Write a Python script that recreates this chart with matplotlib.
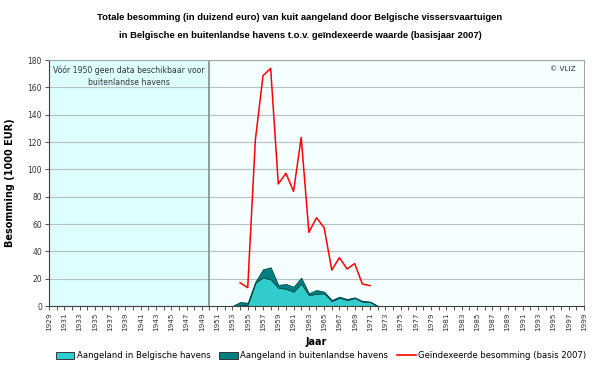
import matplotlib
matplotlib.use("Agg")
import matplotlib.pyplot as plt
import numpy as np
from matplotlib.patches import Patch
from matplotlib.lines import Line2D

plt.rcParams['font.family'] = ['DejaVu Sans']

years = list(range(1953, 1973))
belgisch = [0.0, 0.3, 1.0, 17.0, 21.0, 19.5, 13.4, 12.7, 10.5, 16.6, 8.0, 9.0, 9.3, 3.7, 6.1, 4.4, 5.9, 3.2, 3.0, 0.0]
totaal = [0.0, 2.9, 2.4, 17.8, 26.8, 28.3, 15.4, 16.1, 14.1, 20.7, 9.3, 11.7, 10.5, 4.4, 6.8, 5.1, 6.3, 3.7, 3.2, 0.0]
buitenlands = [t - b for t, b in zip(totaal, belgisch)]

years_idx = list(range(1954, 1972))
geindexeerd = [17.0, 13.4, 121.5, 168.5, 173.9, 89.3, 97.1, 83.9, 123.4, 53.9, 64.6, 57.3, 26.3, 35.4, 27.1, 31.0, 16.1, 14.9]

title = ("Totale besomming (in duizend euro) van kuit aangeland door Belgische vissersvaartuigen\n"
         "in Belgische en buitenlandse havens t.o.v. geïndexeerde waarde (basisjaar 2007)")
note = "Vóór 1950 geen data beschikbaar voor\nbuitenlandse havens"

c_light = '#33CCCC'
c_dark = '#008080'
c_red = '#FF0000'

fig = plt.figure(figsize=(6, 3.68), dpi=100)
ax = fig.add_axes([49/600, 1-306/368, (584-49)/600, (306-60)/368])
ax.set_facecolor('#F6FFFF')

ax.axvspan(1929, 1950, color='#DDFFFF', zorder=0)
ax.axvline(1950, color='#7F8F8F', lw=1.2, zorder=1)

ax.set_xlim(1929, 1999)
ax.set_ylim(0, 180)
ax.set_yticks(range(0, 181, 20))
ax.yaxis.grid(True, color='#B8C0C0', lw=0.8)
ax.set_axisbelow(True)

ax.stackplot(years, belgisch, buitenlands, colors=[c_light, c_dark],
             edgecolor='#004848', linewidth=0.6, zorder=2)
ax.plot(years_idx, geindexeerd, color=c_red, lw=1.1, zorder=3)

xt = list(range(1929, 2000))
ax.set_xticks(xt)
ax.set_xticklabels([str(y) if (y - 1929) % 2 == 0 else '' for y in xt],
                   rotation=90, fontsize=5.2, color='#333333')
ax.tick_params(axis='x', length=3, width=0.6, pad=2, colors='#333333')
ax.tick_params(axis='y', length=3, width=0.6, labelsize=5.5, pad=2, colors='#333333')

for s in ['top', 'right']:
    ax.spines[s].set_color('#A0A8A8')
    ax.spines[s].set_linewidth(0.8)
ax.spines['left'].set_color('#404040')
ax.spines['bottom'].set_color('#404040')
ax.spines['left'].set_linewidth(0.8)
ax.spines['bottom'].set_linewidth(0.8)

ax.text(1939.5, 176, note, ha='center', va='top', fontsize=5.6, color='#333333',
        linespacing=1.4)
ax.text(0.985, 0.975, '© VLIZ', transform=ax.transAxes, ha='right', va='top',
        fontsize=5.2, color='#333333')

ax.set_xlabel('Jaar', fontsize=7, fontweight='bold', labelpad=4)
ax.set_ylabel('Besomming (1000 EUR)', fontsize=7, fontweight='bold', labelpad=9)

fig.text(0.5, 1 - 26.5/368, title, ha='center', va='center', fontsize=6.8,
         fontweight='bold', linespacing=2.15, family=['Liberation Sans'])

handles = [Patch(facecolor=c_light, edgecolor='#202020', linewidth=0.6),
           Patch(facecolor=c_dark, edgecolor='#202020', linewidth=0.6),
           Line2D([0], [0], color=c_red, lw=1.2)]
labels = ['Aangeland in Belgische havens', 'Aangeland in buitenlandse havens',
          'Geïndexeerde besomming (basis 2007)']
fig.legend(handles, labels, loc='center', bbox_to_anchor=(0.535, 1 - 356/368), ncol=3,
           frameon=False, fontsize=6.1, handlelength=2.2, handleheight=0.9,
           handletextpad=0.3, columnspacing=1.0, borderaxespad=0)

fig.savefig('out.png', dpi=100)
